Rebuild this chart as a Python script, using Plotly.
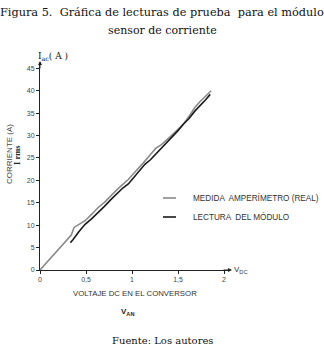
import plotly.graph_objects as go

medida_x = [0, 0.1, 0.2, 0.3, 0.34, 0.37, 0.43, 0.49, 0.56, 0.63, 0.70, 0.77, 0.84, 0.90, 0.96,
            1.02, 1.08, 1.14, 1.20, 1.26, 1.32, 1.38, 1.44, 1.50, 1.56, 1.62, 1.68, 1.74, 1.80, 1.86]
medida_y = [0, 2.3, 4.6, 6.9, 7.8, 9.5, 10.2, 11.0, 12.4, 13.9, 15.1, 16.6, 18.0, 19.1, 20.2,
            21.6, 22.9, 24.3, 25.8, 27.2, 28.0, 29.0, 30.2, 31.4, 32.6, 34.3, 36.2, 37.6, 38.9, 40.0]
lectura_x = [0.33, 0.36, 0.42, 0.49, 0.56, 0.63, 0.70, 0.77, 0.84, 0.90, 0.96, 1.02, 1.08, 1.14,
             1.20, 1.26, 1.32, 1.38, 1.44, 1.50, 1.56, 1.62, 1.68, 1.74, 1.80, 1.85]
lectura_y = [6.1, 6.8, 8.5, 10.2, 11.4, 12.7, 14.2, 15.7, 17.2, 18.3, 19.2, 20.7, 22.0, 23.6,
             24.6, 25.9, 27.2, 28.4, 29.8, 31.1, 32.6, 33.8, 35.4, 36.6, 38.0, 39.2]
series_names = ["MEDIDA  AMPERÍMETRO (REAL)", "LECTURA  DEL MÓDULO"]
series_colors = ["#8a8a8a", "#1a1a1a"]
x_ticks = [0, 0.5, 1, 1.5, 2]
x_tick_labels = ["0", "0,5", "1", "1,5", "2"]
y_ticks = [0, 5, 10, 15, 20, 25, 30, 35, 40, 45]

W, H = 324, 350
PL, PR, PT, PB = 40, 229, 63, 270   # plot box in page pixels
L, R, T, B = PL, W - PR, PT, H - PB

fig = go.Figure()
fig.add_trace(go.Scatter(x=medida_x, y=medida_y, mode="lines", name=series_names[0],
                         line=dict(color=series_colors[0], width=1.6)))
fig.add_trace(go.Scatter(x=lectura_x, y=lectura_y, mode="lines", name=series_names[1],
                         line=dict(color=series_colors[1], width=1.6)))

def px(xp, yp):
    return (xp - PL) / (PR - PL), 1 - (yp - PT) / (PB - PT)

axis_font = dict(family="Liberation Sans, Arial", size=7, color="#444")
fig.update_layout(
    width=W, height=H,
    margin=dict(l=L, r=R, t=T, b=B, autoexpand=False),
    paper_bgcolor="white", plot_bgcolor="white",
    showlegend=False,
    xaxis=dict(range=[0, 2.054], tickvals=x_ticks, ticktext=x_tick_labels, showgrid=False,
               zeroline=False, showline=True, linecolor="#222", linewidth=1,
               ticks="outside", ticklen=3, tickcolor="#222", tickfont=axis_font),
    yaxis=dict(range=[0, 46.2], tickvals=y_ticks, showgrid=False, zeroline=False,
               showline=True, linecolor="#222", linewidth=1,
               ticks="outside", ticklen=3, tickcolor="#222", tickfont=axis_font),
)

anns = []
def text(s, xp, yp, size, family, color="#111", angle=0, xanchor="center"):
    x, y = px(xp, yp)
    anns.append(dict(text=s, x=x, y=y, xref="paper", yref="paper", showarrow=False,
                     xanchor=xanchor, yanchor="middle", textangle=angle,
                     font=dict(size=size, family=family, color=color)))

serif = "Century Schoolbook L, DejaVu Serif, Liberation Serif, serif"
sans = "Liberation Sans, Arial"
text("Figura 5.  Gráfica de lecturas de prueba  para el módulo", 162, 12, 11.3, serif)
text("sensor de corriente", 162, 31, 11, serif)
text("I<sub>ac</sub>( A )", 36, 56, 9, serif, xanchor="left")
text("CORRIENTE (A)", 9, 154, 8, sans, color="#444", angle=-90)
text("<b>I rms</b>", 17, 155, 8.5, "Liberation Serif, serif", color="#222", angle=-90)
text("V<sub>DC</sub>", 232, 270, 8, sans, color="#333", xanchor="left")
text("VOLTAJE DC EN EL CONVERSOR", 135, 293, 7.8, sans, color="#333")
text("<b>V<sub>AN</sub></b>", 127, 312, 8, sans, color="#222")
text("Fuente: Los autores", 162, 340, 10, serif)

# legend (manual)
shapes = []
for i, (name, col) in enumerate(zip(series_names, series_colors)):
    yp = 198 + 19 * i
    x0, y0 = px(163, yp)
    x1, _ = px(176, yp)
    shapes.append(dict(type="line", xref="paper", yref="paper", x0=x0, x1=x1, y0=y0, y1=y0,
                       line=dict(color=col, width=1.6)))
    text(name, 191, yp, 8.2, sans, color="#333", xanchor="left")

# axis arrowheads
x1, y1 = px(40, 61)
anns.append(dict(x=x1, y=y1, ax=0, ay=9, xref="paper", yref="paper", axref="pixel", ayref="pixel",
                 showarrow=True, arrowhead=2, arrowsize=0.8, arrowwidth=1, arrowcolor="#222", text=""))
x1, y1 = px(232, 270)
anns.append(dict(x=x1, y=y1, ax=-10, ay=0, xref="paper", yref="paper", axref="pixel", ayref="pixel",
                 showarrow=True, arrowhead=2, arrowsize=0.8, arrowwidth=1, arrowcolor="#222", text=""))
fig.update_layout(annotations=anns, shapes=shapes)

fig.write_html("out.html", config={"displayModeBar": False},
               post_script="document.body.style.margin='0';document.body.style.padding='0';")
